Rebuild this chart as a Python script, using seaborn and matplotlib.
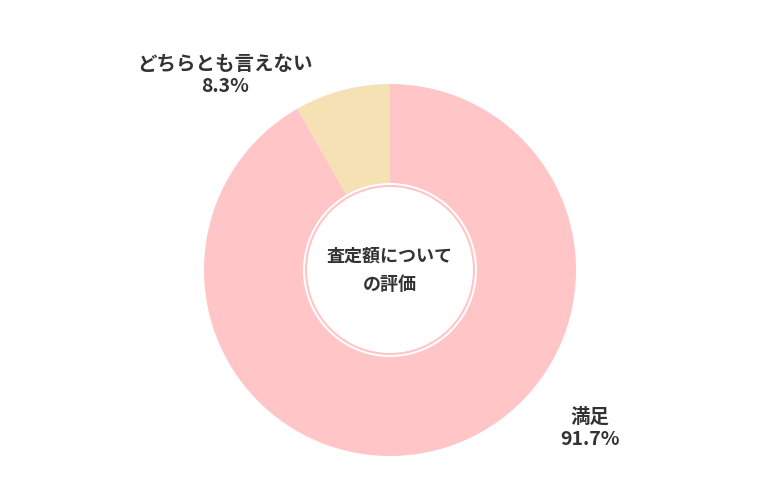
import matplotlib
matplotlib.use("Agg")
import matplotlib.pyplot as plt
import seaborn as sns
from matplotlib.patches import Circle

labels = ["満足", "どちらとも言えない"]
values = [91.7, 8.3]
colors = ["#FFC5C7", "#F5E1B3"]

sns.set_theme(style="white")
plt.rcParams['font.family'] = ['Noto Sans CJK JP', 'DejaVu Sans']

fig = plt.figure(figsize=(7.8, 5), dpi=100)
ax = fig.add_axes([0, 0, 1, 1])
ax.set_xlim(0, 780)
ax.set_ylim(0, 500)
ax.set_aspect('equal')
ax.axis('off')

cx, cy, R = 390, 230, 186
ax.pie(values, colors=colors, startangle=90, counterclock=False,
       center=(cx, cy), radius=R, wedgeprops=dict(width=R - 87, linewidth=0),
       frame=True)
ax.set_xlim(0, 780)
ax.set_ylim(0, 500)
ax.axis('off')
ax.add_patch(Circle((cx, cy), 84, facecolor='white', edgecolor='#FFC5C7', linewidth=1.5, zorder=5))

ax.text(cx, cy, "査定額について\nの評価", ha='center', va='center', fontsize=13,
        fontweight='bold', color='#333333', linespacing=1.6, zorder=6)
ax.text(225, 425, f"{labels[1]}\n{values[1]}%", ha='center', va='center', fontsize=14,
        fontweight='bold', color='#333333', linespacing=1.2)
ax.text(590, 72, f"{labels[0]}\n{values[0]}%", ha='center', va='center', fontsize=14,
        fontweight='bold', color='#333333', linespacing=1.2)

fig.savefig("out.png", dpi=100)
